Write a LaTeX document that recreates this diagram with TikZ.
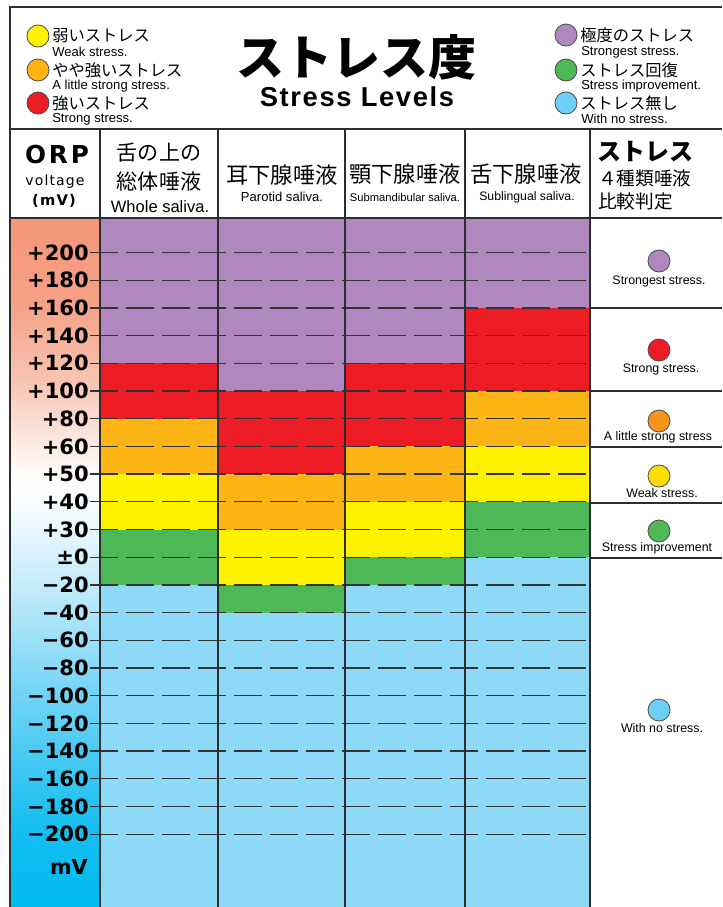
\documentclass[tikz,border=0pt]{standalone}
\usepackage{fontspec}
\setmainfont{Liberation Sans}
\newfontfamily\jp{Noto Sans CJK JP}
\newfontfamily\dvs{DejaVu Sans}
\newfontfamily\trk{Liberation Sans}[LetterSpace=6]
\newfontfamily\orpf{DejaVu Sans}[LetterSpace=12]
\newfontfamily\volt{DejaVu Sans}[LetterSpace=8]
\definecolor{cpurple}{RGB}{176,136,191}
\definecolor{cred}{RGB}{237,28,36}
\definecolor{corange}{RGB}{253,181,21}
\definecolor{cyellow}{RGB}{255,242,0}
\definecolor{cgreen}{RGB}{76,184,87}
\definecolor{cblue}{RGB}{142,216,248}
\definecolor{cbluedot}{RGB}{109,207,246}
\definecolor{corangedot}{RGB}{247,148,29}
\definecolor{cgold}{RGB}{255,221,0}
\definecolor{cframe}{RGB}{45,45,45}
\pgfdeclareverticalshading{orpshade}{100bp}{%
  rgb(0bp)=(0,0.733,0.941);
  rgb(25bp)=(0,0.733,0.941); rgb(30.6bp)=(0.08,0.745,0.941);
  rgb(40bp)=(0.43,0.824,0.961); rgb(47.3bp)=(0.725,0.91,0.98);
  rgb(53.1bp)=(0.94,0.976,0.992); rgb(56bp)=(1,1,1);
  rgb(58.9bp)=(0.988,0.91,0.882); rgb(63.2bp)=(0.973,0.769,0.698);
  rgb(69bp)=(0.961,0.627,0.522); rgb(75bp)=(0.957,0.588,0.478);
  rgb(100bp)=(0.957,0.588,0.478)}

\begin{document}
\begin{tikzpicture}[x=0.75pt,y=-0.75pt]
	\tikzstyle{dot}=[circle, draw=black!70, line width=0.6pt, minimum size=16.5pt, inner sep=0pt]
	\tikzstyle{jplab}=[inner sep=0pt, anchor=west, font=\jp\fontsize{12.2}{14}\selectfont]
	\tikzstyle{enlab}=[inner sep=0pt, anchor=west, font=\fontsize{9.8}{11}\selectfont]
	\tikzstyle{colhead}=[inner sep=0pt, font=\jp\fontsize{16.7}{19}\selectfont]
	\tikzstyle{judge}=[inner sep=0pt, font=\fontsize{9.3}{11}\selectfont]
	\tikzstyle{gridline}=[draw=black!80, line width=1pt, dash pattern=on 21pt off 6pt]
	\tikzstyle{rule}=[draw=cframe, line width=1.4pt]
	
	\useasboundingbox (0,0) rectangle (722,907);
	
	% ORP column and colour bands
	\shade[shading=orpshade] (10,218) rectangle (100,907);
	\foreach \ya/\yb/\c in {218/363/cpurple, 363/419/cred, 419/474/corange, 474/530/cyellow, 530/585/cgreen, 585/907/cblue}
		\fill[\c] (100,\ya) rectangle (218,\yb);
	\foreach \ya/\yb/\c in {218/391/cpurple, 391/474/cred, 474/530/corange, 530/585/cyellow, 585/613/cgreen, 613/907/cblue}
		\fill[\c] (218,\ya) rectangle (345,\yb);
	\foreach \ya/\yb/\c in {218/363/cpurple, 363/446/cred, 446/502/corange, 502/557/cyellow, 557/585/cgreen, 585/907/cblue}
		\fill[\c] (345,\ya) rectangle (465,\yb);
	\foreach \ya/\yb/\c in {218/308/cpurple, 308/391/cred, 391/446/corange, 446/502/cyellow, 502/557/cgreen, 557/907/cblue}
		\fill[\c] (465,\ya) rectangle (590,\yb);
	
	% levels
	\foreach \v [count=\i from 0] in {+200,+180,+160,+140,+120,+100,+80,+60,+50,+40,+30,±0,−20,−40,−60,−80,−100,−120,−140,−160,−180,−200} {
		\pgfmathsetmacro\yy{252.5+\i*27.7}
		\draw[gridline] (90,\yy) -- (590,\yy);
		\node at (89,\yy) [anchor=east, inner sep=0pt, font=\dvs\bfseries\fontsize{15.8}{17}\selectfont] (lv\i) {\v};
	}
	\node at (88,867) [anchor=east, inner sep=0pt, font=\dvs\bfseries\fontsize{15.5}{17}\selectfont] (unit) {mV};
	
	% frame
	\draw[rule] (10,907) -- (10,7) -- (722,7);
	\draw[rule] (10,129) -- (722,129);
	\draw[rule] (10,218) -- (722,218);
	\draw[rule] (100,129) -- (100,907);
	\draw[rule] (218,129) -- (218,907);
	\draw[rule] (345,129) -- (345,907);
	\draw[rule] (465,129) -- (465,907);
	\draw[rule] (590,129) -- (590,907);
	\draw[rule] (590,308) -- (722,308);
	\draw[rule] (590,391) -- (722,391);
	\draw[rule] (590,447) -- (722,447);
	\draw[rule] (590,503) -- (722,503);
	\draw[rule] (590,558) -- (722,558);
	
	% legend left
	\draw node at (38,36) [dot, fill=cyellow] (dweak) {};
	\draw node at (52,36) [jplab] (jweak) {弱いストレス};
	\draw node at (52,52) [enlab] (eweak) {Weak stress.};
	\draw node at (38,70) [dot, fill=corange] (dlittle) {};
	\draw node at (52,70) [jplab] (jlittle) {やや強いストレス};
	\draw node at (52,86) [enlab] (elittle) {A little strong stress.};
	\draw node at (38,103) [dot, fill=cred] (dstrong) {};
	\draw node at (52,103) [jplab] (jstrong) {強いストレス};
	\draw node at (52,119) [enlab] (estrong) {Strong stress.};
	
	% title
	\node at (356,57) [inner sep=0pt, font=\jp\bfseries\fontsize{36}{40}\selectfont] (title) {ストレス度};
	\node at (357,97) [inner sep=0pt, font=\trk\bfseries\fontsize{20.5}{23}\selectfont] (subtitle) {Stress Levels};
	
	% legend right
	\draw node at (566,35) [dot, fill=cpurple] (dmax) {};
	\draw node at (580,35) [jplab] (jmax) {極度のストレス};
	\draw node at (581,52) [enlab] (emax) {Strongest stress.};
	\draw node at (566,70) [dot, fill=cgreen] (dimp) {};
	\draw node at (580,70) [jplab] (jimp) {ストレス回復};
	\draw node at (581,86) [enlab] (eimp) {Stress improvement.};
	\draw node at (566,103) [dot, fill=cbluedot] (dnone) {};
	\draw node at (580,103) [jplab] (jnone) {ストレス無し};
	\draw node at (581,119) [enlab] (enone) {With no stress.};
	
	% column heads
	\node at (57,155) [inner sep=0pt, font=\orpf\bfseries\fontsize{18.5}{20}\selectfont] (orp) {ORP};
	\node at (55,182) [inner sep=0pt, font=\volt\fontsize{10.5}{12}\selectfont] (volt) {voltage};
	\node at (54,201) [inner sep=0pt, font=\volt\bfseries\fontsize{11}{12}\selectfont] (mv) {(mV)};
	\node at (159,153) [colhead, font=\jp\fontsize{15.8}{18}\selectfont] (whole1) {舌の上の};
	\node at (159,181) [colhead, font=\jp\fontsize{15.8}{18}\selectfont] (whole2) {総体唾液};
	\node at (160,207) [inner sep=0pt, font=\fontsize{12.4}{14}\selectfont] (whole3) {Whole saliva.};
	\node at (282,175) [colhead] (paro1) {耳下腺唾液};
	\node at (282,197) [inner sep=0pt, font=\fontsize{9.8}{11}\selectfont] (paro2) {Parotid saliva.};
	\node at (405,174) [colhead] (subm1) {顎下腺唾液};
	\node at (405,197) [inner sep=0pt, font=\fontsize{8.4}{10}\selectfont] (subm2) {Submandibular saliva.};
	\node at (526,174) [colhead] (subl1) {舌下腺唾液};
	\node at (527,197) [inner sep=0pt, font=\fontsize{9.2}{11}\selectfont] (subl2) {Sublingual saliva.};
	\node at (597,152) [anchor=west, inner sep=0pt, font=\jp\bfseries\fontsize{18}{20}\selectfont] (cmp1) {ストレス};
	\node at (598,178) [anchor=west, inner sep=0pt, font=\jp\fontsize{14}{16}\selectfont] (cmp2) {４種類唾液};
	\node at (598,201) [anchor=west, inner sep=0pt, font=\jp\fontsize{14}{16}\selectfont] (cmp3) {比較判定};
	
	% judgement column
	\draw node at (659,261) [dot, fill=cpurple] (jdmax) {};
	\node at (659,281) [judge] (jtmax) {Strongest stress.};
	\draw node at (659,350) [dot, fill=cred] (jdstrong) {};
	\node at (661,369) [judge] (jtstrong) {Strong stress.};
	\draw node at (659,421) [dot, fill=corangedot] (jdlittle) {};
	\node at (658,437) [judge] (jtlittle) {A little strong stress};
	\draw node at (659,476) [dot, fill=cgold] (jdweak) {};
	\node at (662,493) [judge] (jtweak) {Weak stress.};
	\draw node at (659,531) [dot, fill=cgreen] (jdimp) {};
	\node at (657,548) [judge] (jtimp) {Stress improvement};
	\draw node at (659,710) [dot, fill=cbluedot] (jdnone) {};
	\node at (662,728) [judge] (jtnone) {With no stress.};
\end{tikzpicture}
\end{document}
